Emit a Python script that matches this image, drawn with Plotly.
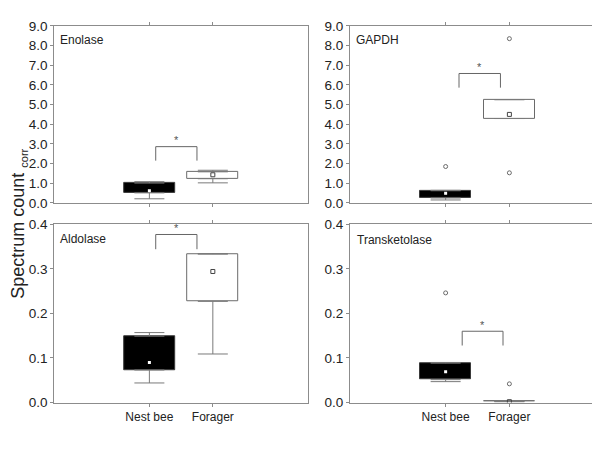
import plotly.graph_objects as go

# values
proteins = ["Enolase", "GAPDH", "Aldolase", "Transketolase"]
groups = ["Nest bee", "Forager"]
group_pos = [1, 2]

# per protein: [nest bee, forager]
q1 = {"Enolase": [0.51, 1.23], "GAPDH": [0.25, 4.29],
      "Aldolase": [0.073, 0.227], "Transketolase": [0.0515, 0.002]}
median = {"Enolase": [0.62, 1.43], "GAPDH": [0.49, 4.50],
          "Aldolase": [0.090, 0.294], "Transketolase": [0.069, 0.002]}
q3 = {"Enolase": [1.01, 1.58], "GAPDH": [0.62, 5.25],
      "Aldolase": [0.149, 0.333], "Transketolase": [0.0885, 0.004]}
low = {"Enolase": [0.21, 1.02], "GAPDH": [0.15, 4.29],
       "Aldolase": [0.044, 0.109], "Transketolase": [0.047, 0.002]}
high = {"Enolase": [1.08, 1.66], "GAPDH": [0.64, 5.25],
        "Aldolase": [0.157, 0.334], "Transketolase": [0.090, 0.004]}
# outliers as (group index, value)
outliers = {"Enolase": [], "GAPDH": [(0, 1.85), (1, 8.35), (1, 1.53)],
            "Aldolase": [], "Transketolase": [(0, 0.246), (1, 0.042)]}

y_ranges = {"Enolase": [0, 9], "GAPDH": [0, 9],
            "Aldolase": [0, 0.4], "Transketolase": [0, 0.4]}
y_dtick = {"Enolase": 1, "GAPDH": 1, "Aldolase": 0.1, "Transketolase": 0.1}

# significance bracket: x from, x to, leg bottom, top, star y
brackets = {"Enolase": (1.10, 1.75, 2.15, 2.86, 3.2),
            "GAPDH": (1.21, 1.86, 5.86, 6.58, 6.9),
            "Aldolase": (1.10, 1.75, 0.344, 0.377, 0.391),
            "Transketolase": (1.26, 1.90, 0.128, 0.160, 0.174)}

WHISK = "#7a7a7a"
AXC = "#8c8c8c"
FONT = "Liberation Sans, Arial, sans-serif"

fig = go.Figure()

for i, p in enumerate(proteins):
    xa = "x" if i == 0 else "x%d" % (i + 1)
    ya = "y" if i == 0 else "y%d" % (i + 1)
    # boxes (25-75%)
    fig.add_trace(go.Bar(
        x=group_pos, y=[b - a for a, b in zip(q1[p], q3[p])], base=q1[p],
        width=0.8, xaxis=xa, yaxis=ya, showlegend=False,
        marker=dict(color=["black", "white"],
                    line=dict(color=["#3a3a3a", "#6a6a6a"], width=1))
    ))
    # whiskers above and below the box
    fig.add_trace(go.Scatter(
        x=group_pos, y=q3[p], mode="markers", xaxis=xa, yaxis=ya,
        marker=dict(size=1, opacity=0), showlegend=False,
        error_y=dict(type="data", symmetric=False,
                     array=[h - b for h, b in zip(high[p], q3[p])],
                     arrayminus=[0, 0], width=15, thickness=1, color=WHISK)
    ))
    fig.add_trace(go.Scatter(
        x=group_pos, y=q1[p], mode="markers", xaxis=xa, yaxis=ya,
        marker=dict(size=1, opacity=0), showlegend=False,
        error_y=dict(type="data", symmetric=False, array=[0, 0],
                     arrayminus=[a - l for a, l in zip(q1[p], low[p])],
                     width=15, thickness=1, color=WHISK)
    ))
    # median points
    fig.add_trace(go.Scatter(
        x=group_pos[:1], y=median[p][:1], mode="markers", xaxis=xa, yaxis=ya,
        marker=dict(symbol="square", size=3, color="white"), showlegend=False
    ))
    fig.add_trace(go.Scatter(
        x=group_pos[1:], y=median[p][1:], mode="markers", xaxis=xa, yaxis=ya,
        marker=dict(symbol="square-open", size=4, color="#444",
                    line=dict(width=1)), showlegend=False
    ))
    # outliers
    if outliers[p]:
        fig.add_trace(go.Scatter(
            x=[group_pos[g] for g, v in outliers[p]],
            y=[v for g, v in outliers[p]], mode="markers",
            xaxis=xa, yaxis=ya, showlegend=False,
            marker=dict(symbol="circle-open", size=4, color="#6a6a6a",
                        line=dict(width=1))
        ))
    # bracket + star
    x0, x1, yb, yt, ys = brackets[p]
    fig.add_shape(type="path", xref=xa, yref=ya,
                  path="M %g %g L %g %g L %g %g L %g %g" % (x0, yb, x0, yt, x1, yt, x1, yb),
                  line=dict(color="#666", width=1))
    fig.add_annotation(x=(x0 + x1) / 2, y=ys, xref=xa, yref=ya, text="*",
                       showarrow=False, font=dict(size=11, color="#555555"))

# panel placement (paper coords)
xdom = [[0.077, 0.5], [0.57, 0.995], [0.077, 0.5], [0.57, 0.995]]
ydom = [[0.568, 0.975], [0.568, 0.975], [0.109, 0.519], [0.109, 0.519]]

layout = dict(
    width=600, height=450, margin=dict(l=0, r=0, t=0, b=0),
    paper_bgcolor="white", plot_bgcolor="white",
    font=dict(family=FONT, color="#222"), bargap=0,
)
for i, p in enumerate(proteins):
    sx = "" if i == 0 else str(i + 1)
    layout["xaxis" + sx] = dict(
        domain=xdom[i], anchor="y" + sx, range=[-0.5, 3.5],
        tickmode="array", tickvals=group_pos, ticktext=groups,
        showticklabels=(i >= 2),
        ticks="outside", ticklen=3, tickcolor=AXC,
        showline=True, linecolor=AXC, mirror="ticks",
        showgrid=False, zeroline=False, tickfont=dict(size=12),
    )
    layout["yaxis" + sx] = dict(
        domain=ydom[i], anchor="x" + sx, range=y_ranges[p],
        dtick=y_dtick[p], tickformat=".1f",
        ticks="outside", ticklen=3, tickcolor=AXC,
        showline=True, linecolor=AXC, mirror=True,
        showgrid=False, zeroline=False, tickfont=dict(size=13.5),
    )
fig.update_layout(**layout)

# panel titles
title_pos = [(50, 26), (346, 26), (50, 232), (347, 233)]
for p, (px, py) in zip(proteins, title_pos):
    fig.add_annotation(x=px / 600, y=1 - py / 450, xref="paper", yref="paper",
                       text=p, showarrow=False, xanchor="left", yanchor="middle",
                       font=dict(size=12, color="#222"))

fig.add_annotation(x=11 / 600, y=1 - 216 / 450, xref="paper", yref="paper",
                   text="Spectrum count <sub><span style='font-size:11px'>corr</span></sub>",
                   textangle=-90, xanchor="center", yanchor="middle",
                   showarrow=False, font=dict(size=18, color="#222"))

fig.write_html("out.html")
